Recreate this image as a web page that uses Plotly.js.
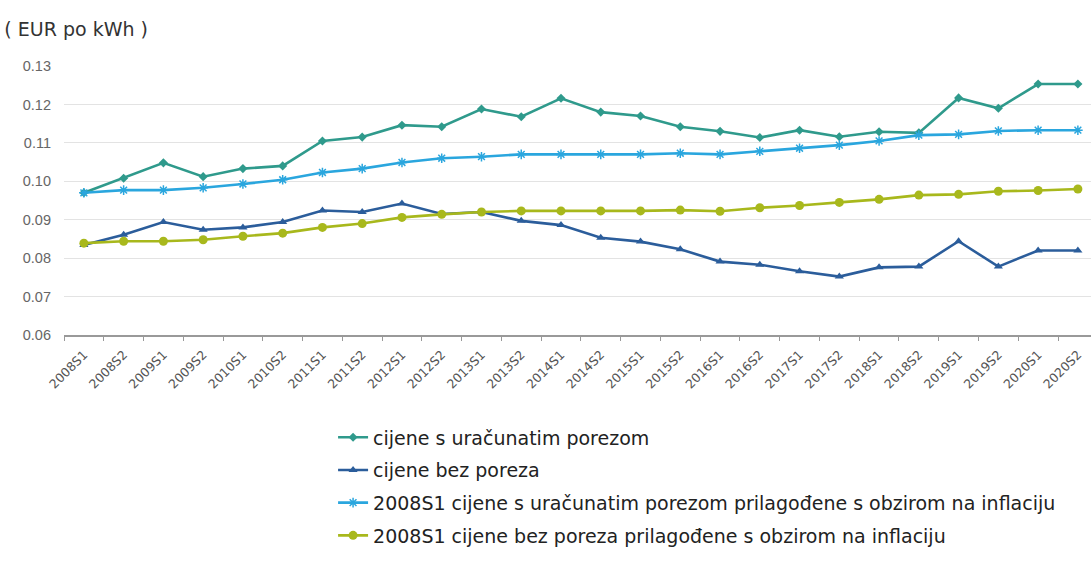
<!DOCTYPE html>
<html>
<head>
<meta charset="utf-8">
<script src="https://cdn.plot.ly/plotly-3.0.1.min.js"></script>
<style>html,body{margin:0;padding:0;background:#fff;}#chart{width:1091px;height:565px;}</style>
</head>
<body>
<div id="chart"></div>
<script>
const categories = ["2008S1","2008S2","2009S1","2009S2","2010S1","2010S2","2011S1","2011S2","2012S1","2012S2","2013S1","2013S2","2014S1","2014S2","2015S1","2015S2","2016S1","2016S2","2017S1","2017S2","2018S1","2018S2","2019S1","2019S2","2020S1","2020S2"];
const withTax = [0.0970,0.1008,0.1048,0.1012,0.1033,0.1040,0.1105,0.1115,0.1146,0.1142,0.1188,0.1168,0.1216,0.1180,0.1170,0.1142,0.1130,0.1114,0.1133,0.1116,0.1129,0.1126,0.1217,0.1190,0.1253,0.1253];
const withoutTax = [0.0834,0.0861,0.0894,0.0874,0.0880,0.0894,0.0924,0.0920,0.0942,0.0915,0.0920,0.0897,0.0886,0.0853,0.0843,0.0823,0.0791,0.0783,0.0766,0.0752,0.0776,0.0778,0.0844,0.0778,0.0820,0.0820];
const withTaxInfl = [0.0970,0.0977,0.0977,0.0983,0.0993,0.1004,0.1023,0.1033,0.1049,0.1060,0.1064,0.1070,0.1070,0.1070,0.1070,0.1073,0.1070,0.1078,0.1086,0.1094,0.1105,0.1120,0.1122,0.1131,0.1133,0.1133];
const withoutTaxInfl = [0.0839,0.0844,0.0844,0.0848,0.0857,0.0865,0.0880,0.0890,0.0906,0.0914,0.0920,0.0923,0.0923,0.0923,0.0923,0.0925,0.0922,0.0931,0.0937,0.0945,0.0953,0.0964,0.0966,0.0974,0.0976,0.0980];
const seriesNames = ["cijene s uračunatim porezom","cijene bez poreza","2008S1 cijene s uračunatim porezom prilagođene s obzirom na inflaciju","2008S1 cijene bez poreza prilagođene s obzirom na inflaciju"];
const yTicks = [0.06,0.07,0.08,0.09,0.10,0.11,0.12,0.13];

const colors = ["#2f9a8c","#2b5d9b","#2aa6de","#a8b81c"];
const symbols = ["diamond","triangle-up","asterisk","circle"];
const sizes = [7,8,8,9];
const data = [withTax, withoutTax, withTaxInfl, withoutTaxInfl].map((ys,i)=>({
  type:"scatter", mode:"lines+markers", x:categories, y:ys, name:seriesNames[i],
  legendgroup:"g"+i,
  line:{color:colors[i], width:2.6},
  marker:{symbol:symbols[i], size:sizes[i], color:colors[i], line:{color:colors[i], width: symbols[i]==="asterisk"?1.5:0}}
}));

const layout = {
  width:1091, height:565,
  margin:{l:64, r:0, t:66, b:230},
  paper_bgcolor:"#fff", plot_bgcolor:"#fff",
  font:{family:"DejaVu Sans, sans-serif", color:"#333"},
  title:{text:"( EUR po kWh )", x:0.004, xanchor:"left", xref:"container", yref:"container", y:0.948, yanchor:"middle", font:{size:19, color:"#333", family:"DejaVu Sans"}},
  xaxis:{type:"category", range:[-0.5,25.33], showgrid:false, showline:true, linecolor:"#999", linewidth:1.5,
    ticks:"outside", tickson:"boundaries", ticklen:4, tickcolor:"#999", tickangle:-45, ticklabelstandoff:6,
    tickfont:{size:12.5, color:"#555", family:"DejaVu Sans"}, zeroline:false, fixedrange:true},
  yaxis:{range:[0.06,0.13], tickvals:yTicks, tickformat:".2f", showgrid:true, gridcolor:"#e3e3e3", gridwidth:1.2,
    showline:false, zeroline:false, ticks:"", ticklabelstandoff:12,
    tickfont:{size:14.5, color:"#666", family:"Liberation Sans, Arial"}, fixedrange:true},
  showlegend:true,
  legend:{orientation:"v", x:0.262, xanchor:"left", y:-0.31, yanchor:"top", traceorder:"grouped", tracegroupgap:5,
    itemwidth:30, font:{size:19, color:"#222", family:"DejaVu Sans"}, bgcolor:"rgba(0,0,0,0)"}
};
Plotly.newPlot("chart", data, layout, {displayModeBar:false, staticPlot:true});
</script>
</body>
</html>
